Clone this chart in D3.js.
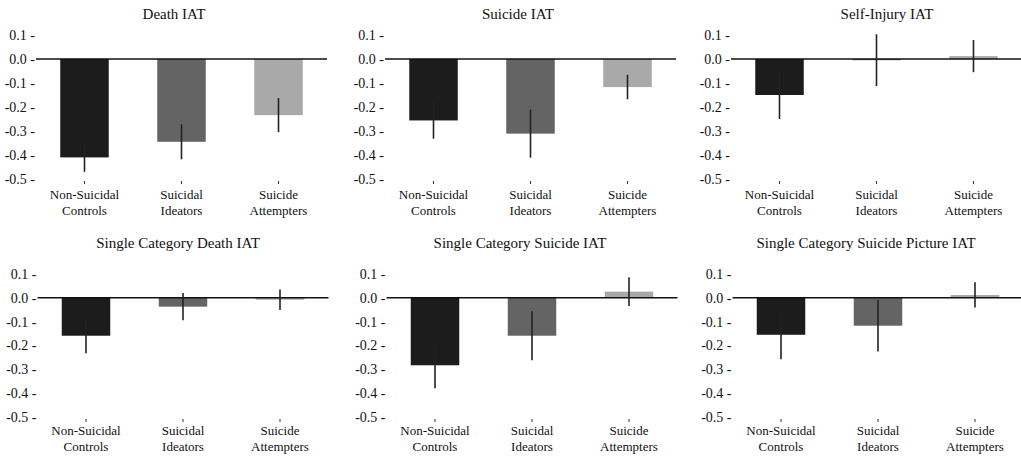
<!DOCTYPE html>
<html lang="en">
<head>
<meta charset="UTF-8">
<title>IAT group means</title>
<script src="https://cdn.jsdelivr.net/npm/d3@7"></script>
<style>
  body { margin:0; background:#fff; }
  svg text { font-family:"Liberation Serif","Times New Roman",serif; fill:#111; }
  .title { font-size:15px; }
  .tick text { font-size:14px; }
  .cat { font-size:13px; }
</style>
</head>
<body>
<script>
// data
var groups = ["Non-Suicidal Controls", "Suicidal Ideators", "Suicide Attempters"];
var groupLines = [["Non-Suicidal", "Controls"], ["Suicidal", "Ideators"], ["Suicide", "Attempters"]];
var panelTitles = ["Death IAT", "Suicide IAT", "Self-Injury IAT",
                   "Single Category Death IAT", "Single Category Suicide IAT", "Single Category Suicide Picture IAT"];
var means = [
  [-0.410, -0.345, -0.234],
  [-0.256, -0.311, -0.117],
  [-0.150, -0.005,  0.012],
  [-0.159, -0.037, -0.008],
  [-0.283, -0.159,  0.026],
  [-0.155, -0.117,  0.012]
];
var errs = [
  [0.060, 0.073, 0.071],
  [0.076, 0.100, 0.051],
  [0.100, 0.108, 0.067],
  [0.073, 0.057, 0.043],
  [0.096, 0.103, 0.060],
  [0.103, 0.108, 0.053]
];
var yTicks = [0.1, 0.0, -0.1, -0.2, -0.3, -0.4, -0.5];
var barColors = ["#1c1c1c", "#646464", "#a9a9a9"];

var width = 1021, height = 457;
var colX = [36, 385, 731], plotW = 291;
var rows = [
  {top:35, bottom:179, titleY:19, shift:0, labY:15},
  {top:274, bottom:417, titleY:248, shift:1.5, labY:13}
];
var titleX = [[174, 518, 887], [178, 520, 866]];

var svg = d3.select("body").append("svg")
  .attr("width", width).attr("height", height);

panelTitles.forEach(function(title, p) {
  var r = Math.floor(p / 3), c = p % 3, row = rows[r];
  var x0 = colX[c] + row.shift;

  var x = d3.scaleBand().domain(groups).range([x0, x0 + plotW])
            .paddingInner(0.5).paddingOuter(0.25);
  var y = d3.scaleLinear().domain([0.1, -0.5]).range([row.top, row.bottom]);

  var g = svg.append("g");

  g.append("text").attr("class", "title")
    .attr("x", titleX[r][c]).attr("y", row.titleY)
    .attr("text-anchor", "middle").text(title);

  // y axis: labels with trailing dash, no line
  var ya = g.append("g").attr("transform", "translate(" + (x0 - 1) + ",0)")
    .call(d3.axisLeft(y).tickValues(yTicks).tickSize(0).tickPadding(0)
      .tickFormat(function(d) { return d3.format(".1f")(d).replace("−", "-") + " -"; }));
  ya.select(".domain").remove();

  var vals = groups.map(function(gname, i) { return {g:gname, v:means[p][i], e:errs[p][i], i:i}; });

  g.selectAll("rect.bar").data(vals).enter().append("rect")
    .attr("class", "bar")
    .attr("x", function(d) { return x(d.g); })
    .attr("width", x.bandwidth())
    .attr("y", function(d) { return y(Math.max(0, d.v)); })
    .attr("height", function(d) { return Math.abs(y(d.v) - y(0)); })
    .attr("fill", function(d) { return barColors[d.i]; });

  // zero line
  g.append("line")
    .attr("x1", x0).attr("x2", x0 + plotW)
    .attr("y1", y(0)).attr("y2", y(0))
    .attr("stroke", "#111").attr("stroke-width", 1.5);

  g.selectAll("line.err").data(vals).enter().append("line")
    .attr("class", "err")
    .attr("x1", function(d) { return x(d.g) + x.bandwidth() / 2; })
    .attr("x2", function(d) { return x(d.g) + x.bandwidth() / 2; })
    .attr("y1", function(d) { return y(d.v + d.e); })
    .attr("y2", function(d) { return y(d.v - d.e); })
    .attr("stroke", "#222").attr("stroke-width", 1.6);

  // category ticks + two-line labels
  var xa = g.append("g").attr("transform", "translate(0," + (row.bottom + 2) + ")")
    .call(d3.axisBottom(x).tickSize(3).tickFormat(""));
  xa.select(".domain").remove();
  xa.selectAll(".tick line").attr("stroke", "#333");

  vals.forEach(function(d) {
    var t = g.append("text").attr("class", "cat").attr("text-anchor", "middle")
      .attr("x", x(d.g) + x.bandwidth() / 2).attr("y", row.bottom + row.labY + 4.5);
    groupLines[d.i].forEach(function(s, k) {
      t.append("tspan").attr("x", x(d.g) + x.bandwidth() / 2).attr("dy", k ? 16 : 0).text(s);
    });
  });
});
</script>
</body>
</html>
